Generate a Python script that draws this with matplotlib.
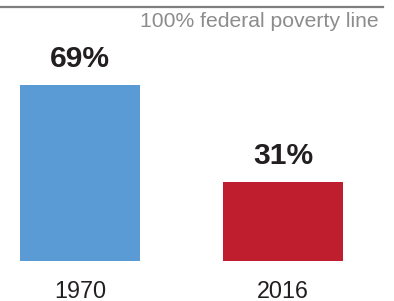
import matplotlib
matplotlib.use("Agg")
import matplotlib.pyplot as plt

categories = ["1970", "2016"]
values = [69, 31]
colors = ["#5B9BD5", "#BE1E2D"]
value_labels = ["69%", "31%"]
line_value = 100
line_label = "100% federal poverty line"

plt.rcParams['font.family'] = ['Liberation Sans', 'DejaVu Sans']

W, H = 394, 301
fig = plt.figure(figsize=(W / 100, H / 100), dpi=100)
# axes: x from 0 to 383 px, y from 261 px (bottom) to 6.5 px (top)
ax = fig.add_axes([0 / W, (H - 261) / H, 383 / W, (261 - 6.5) / H])

x = list(range(len(categories)))
ax.bar(x, values, width=0.59, color=colors)
ax.set_xlim(-0.394, 1.493)
ax.set_ylim(0, 100)

ax.axhline(line_value, color="#7f7f7f", lw=1.6, clip_on=False)
ax.annotate(line_label, xy=(1, line_value), xycoords=('axes fraction', 'data'),
            xytext=(-4, -20.5), textcoords='offset pixels', ha='right', va='baseline',
            fontsize=15.2, color="#8c8c8c")

for xi, v, lab in zip(x, values, value_labels):
    ax.annotate(lab, xy=(xi, v), xytext=(0, 18), textcoords='offset pixels',
                ha='center', va='baseline', fontsize=21.6, fontweight='bold', color="#231f20")

for xi, cat in zip(x, categories):
    ax.annotate(cat, xy=(xi, 0), xytext=(0, -36.5), textcoords='offset pixels',
                ha='center', va='baseline', fontsize=16.8, color="#231f20")

ax.set_xticks([])
ax.set_yticks([])
for s in ax.spines.values():
    s.set_visible(False)

fig.savefig("out.png", dpi=100)
